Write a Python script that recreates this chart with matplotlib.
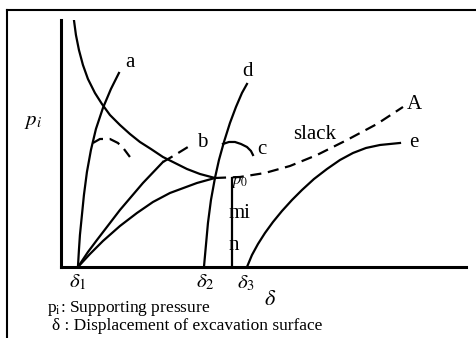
import matplotlib.pyplot as plt
from matplotlib.lines import Line2D

plt.rcParams['font.family'] = ['Liberation Serif', 'DejaVu Serif']
plt.rcParams['mathtext.fontset'] = 'stix'

# curvas (deslocamento, pressao)
ground_x = [1.3, 1.5, 1.8, 2.2, 2.7, 3.4, 4.1, 4.9, 5.9, 6.9, 7.9, 9.0, 10.2, 11.4, 12.6, 13.9, 15.4]
ground_y = [24.7, 23.2, 21.7, 20.2, 18.8, 17.4, 16.3, 15.2, 14.2, 13.3, 12.5, 11.8, 11.0, 10.4, 9.8, 9.3, 8.9]
slack_x = [15.4, 17.9, 20.4, 22.9, 25.6, 28.6, 31.6, 34.2]
slack_y = [8.9, 9.0, 9.4, 10.1, 11.2, 12.7, 14.3, 16.0]

a_x = [1.7, 1.8, 1.9, 2.1, 2.3, 2.6, 3.0, 3.5, 4.2, 5.0, 5.8]
a_y = [0, 1.7, 3.2, 5.2, 7.2, 9.5, 11.7, 13.8, 15.9, 17.8, 19.4]
a_cap_x = [3.2, 3.9, 4.9, 5.7, 6.3, 6.9]
a_cap_y = [12.4, 12.8, 12.8, 12.4, 11.8, 11.0]

b_x = [1.7, 2.7, 3.6, 5.9, 8.2, 10.2]
b_y = [0, 1.5, 2.7, 5.7, 8.4, 10.5]
b_dash_x = [10.2, 11.4, 12.7]
b_dash_y = [10.5, 11.2, 12.0]

p0_x = [1.7, 2.9, 4.2, 5.9, 7.6, 9.2, 10.9, 13.6, 15.4]
p0_y = [0, 1.3, 2.6, 4.1, 5.4, 6.5, 7.4, 8.4, 8.9]

d_x = [14.3, 14.5, 14.7, 15.0, 15.4, 15.8, 16.3, 16.9, 17.5, 18.1, 18.6]
d_y = [0, 2.2, 4.4, 6.7, 8.9, 10.7, 12.5, 14.4, 16.0, 17.4, 18.3]
c_x = [16.2, 16.8, 17.4, 18.0, 18.6, 19.0, 19.2]
c_y = [12.3, 12.5, 12.5, 12.3, 12.0, 11.6, 11.2]

mn_x = [17.1, 17.1]
mn_y = [0, 8.9]

e_x = [18.6, 19.1, 19.7, 20.4, 21.2, 22.1, 23.1, 24.1, 25.3, 26.6, 27.9, 29.2, 30.5, 31.9, 33.9]
e_y = [0, 1.2, 2.3, 3.4, 4.5, 5.6, 6.7, 7.7, 8.8, 9.8, 10.7, 11.4, 11.9, 12.2, 12.4]

fig = plt.figure(figsize=(4.76, 3.38), dpi=100)
ax = fig.add_axes([0.128, 0.210, 0.851, 0.731])
ax.set_xlim(0, 40.5)
ax.set_ylim(0, 24.7)
for s in ['top', 'right']:
    ax.spines[s].set_visible(False)
for s in ['left', 'bottom']:
    ax.spines[s].set_linewidth(2.2)
ax.set_xticks([])
ax.set_yticks([])

lw = 1.6
k = 'black'
ax.plot(ground_x, ground_y, color=k, lw=lw)
ax.plot(slack_x, slack_y, color=k, lw=lw, dashes=(5, 3))
ax.plot(a_x, a_y, color=k, lw=lw)
ax.plot(a_cap_x, a_cap_y, color=k, lw=lw, dashes=(5, 3))
ax.plot(b_x, b_y, color=k, lw=lw)
ax.plot(b_dash_x, b_dash_y, color=k, lw=lw, dashes=(5, 3))
ax.plot(p0_x, p0_y, color=k, lw=lw)
ax.plot(d_x, d_y, color=k, lw=lw)
ax.plot(c_x, c_y, color=k, lw=lw)
ax.plot(mn_x, mn_y, color=k, lw=lw)
ax.plot(e_x, e_y, color=k, lw=lw)

fs = 15
ax.text(6.9, 20.4, 'a', fontsize=fs, ha='center', va='center')
ax.text(14.1, 12.4, 'b', fontsize=fs, ha='center', va='center')
ax.text(20.1, 11.7, 'c', fontsize=fs, ha='center', va='center')
ax.text(18.7, 19.5, 'd', fontsize=fs, ha='center', va='center')
ax.text(35.3, 16.2, 'A', fontsize=fs, ha='center', va='center')
ax.text(35.3, 12.4, 'e', fontsize=fs, ha='center', va='center')
ax.text(25.4, 13.2, 'slack', fontsize=fs, ha='center', va='center')
ax.text(17.9, 8.5, '$p_0$', fontsize=12, ha='center', va='center')
ax.text(17.9, 5.4, 'mi', fontsize=fs, ha='center', va='center')
ax.text(17.3, 2.2, 'n', fontsize=fs, ha='center', va='center')

ax.text(-2.8, 14.5, '$p_i$', fontsize=fs, ha='center', va='center', clip_on=False)
ax.text(1.7, -1.5, r'$\delta_1$', fontsize=fs, ha='center', va='center', clip_on=False)
ax.text(14.4, -1.5, r'$\delta_2$', fontsize=fs, ha='center', va='center', clip_on=False)
ax.text(18.5, -1.6, r'$\delta_3$', fontsize=fs, ha='center', va='center', clip_on=False)
ax.text(20.9, -3.3, r'$\delta$', fontsize=fs + 1, ha='center', va='center', clip_on=False)

fig.text(47 / 476, 1 - 308 / 338, 'p$_\\mathrm{i}$: Supporting pressure', fontsize=12.5,
         ha='left', va='center')
fig.text(52 / 476, 1 - 326 / 338, '\u03b4 : Displacement of excavation surface', fontsize=12.5,
         ha='left', va='center')

# moldura
fig.add_artist(Line2D([7 / 476, 7 / 476], [0, 1 - 10 / 338], color=k, lw=1.5))
fig.add_artist(Line2D([7 / 476, 1], [1 - 10 / 338, 1 - 10 / 338], color=k, lw=1.5))

fig.savefig('out.png', dpi=100)
